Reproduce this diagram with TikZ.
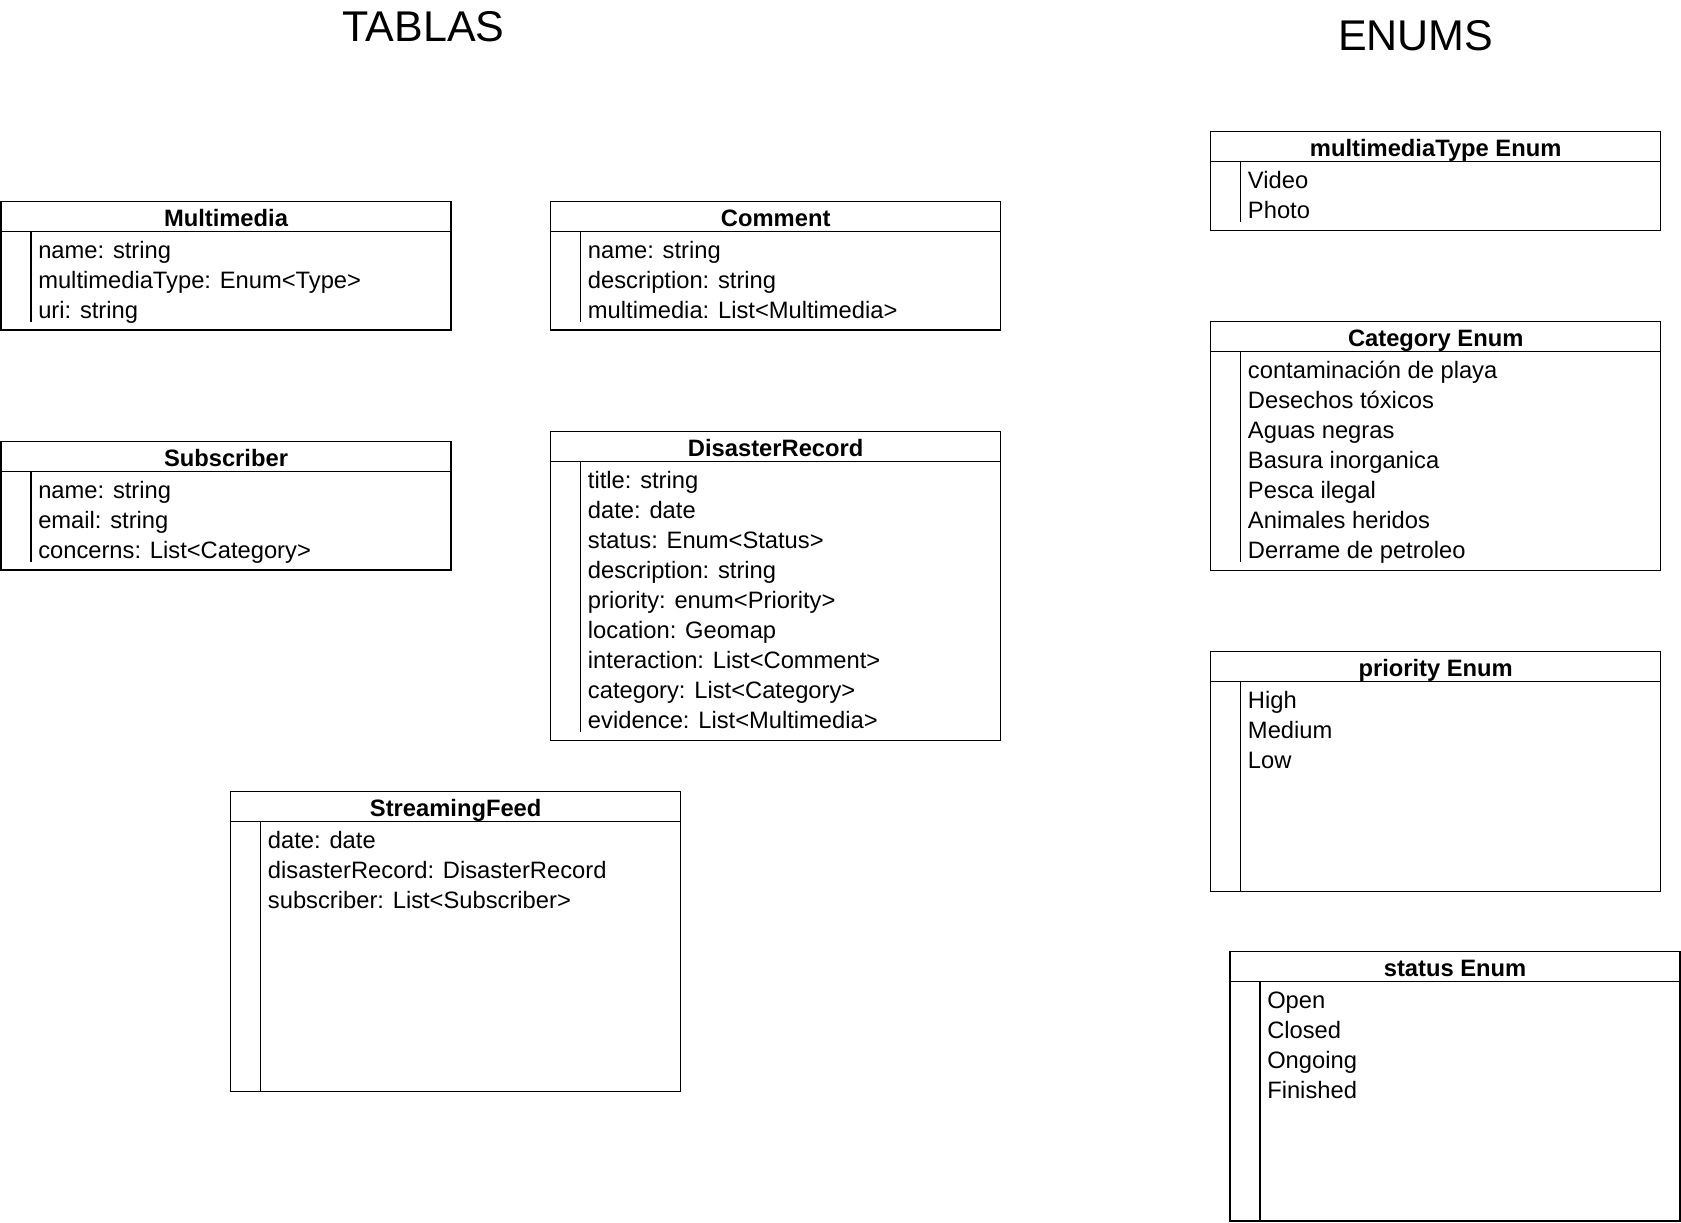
\documentclass[tikz,border=0pt]{standalone}
\usepackage{fontspec}
\setmainfont{Liberation Sans}
\usetikzlibrary{calc}
\tikzset{
  frame/.style={draw, line width=0.9pt, minimum width=337.5pt, inner sep=0pt, outer sep=0pt, anchor=north west},
  sepline/.style={line width=0.9pt},
  headtext/.style={anchor=base, inner sep=0pt, font=\fontsize{17.8pt}{20pt}\selectfont\bfseries},
  rowtext/.style={anchor=base west, inner sep=0pt, font=\fontsize{17.8pt}{20pt}\selectfont},
  titletext/.style={anchor=base, inner sep=0pt, font=\fontsize{32.25pt}{36pt}\selectfont}
}
% #1 id, #2 x, #3 y, #4 title, #5 height (px), #6 vline length (px), #7 rows
\newcommand\umlbox[7]{%
  \node[frame, minimum height=#5*0.75pt] (#1) at (#2,#3) {};
  \node[headtext] (#1-h) at ($(#1.north)+(0,25)$) {#4};
  \draw[sepline] ($(#1.north west)+(0,30)$) -- ($(#1.north east)+(0,30)$);
  \draw[sepline] ($(#1.north west)+(30,30)$) -- ++(0,#6);
  \foreach \t [count=\i] in {#7} {
    \node[rowtext] (#1-\i) at ($(#1.north west)+(37,{56.5+30*(\i-1)})$) {\t};
  }
}
\begin{document}
\begin{tikzpicture}[x=0.75pt, y=-0.75pt]
\useasboundingbox (0,0) rectangle (1681,1222);
\node[titletext] (tablas) at (423.7,41.7) {TABLAS};
\node[titletext] (enums) at (1415.8,50.7) {ENUMS};

\umlbox{mm}{1}{201.7}{Multimedia}{128.3}{90}{name: string, multimediaType: Enum<Type>, uri: string}
\umlbox{cm}{550.7}{201.7}{Comment}{128.3}{90}{name: string, description: string, multimedia: List<Multimedia>}
\umlbox{sub}{1}{441.7}{Subscriber}{128.3}{90}{name: string, email: string, concerns: List<Category>}
\umlbox{dr}{550.7}{431.7}{DisasterRecord}{309}{270}{title: string, date: date, status: Enum<Status>, description: string, priority: enum<Priority>, location: Geomap, interaction: List<Comment>, category: List<Category>, evidence: List<Multimedia>}
\umlbox{sf}{230.7}{791.7}{StreamingFeed}{300}{270}{date: date, disasterRecord: DisasterRecord, subscriber: List<Subscriber>}
\umlbox{mt}{1210.7}{131.7}{multimediaType Enum}{99}{60}{Video, Photo}
\umlbox{cat}{1210.7}{321.7}{Category Enum}{249}{210}{contaminación de playa, Desechos tóxicos, Aguas negras, Basura inorganica, Pesca ilegal, Animales heridos, Derrame de petroleo}
\umlbox{pr}{1210.7}{651.7}{priority Enum}{240}{210}{High, Medium, Low}
\umlbox{st}{1230}{951.7}{status Enum}{269.3}{239.3}{Open, Closed, Ongoing, Finished}
\end{tikzpicture}
\end{document}
